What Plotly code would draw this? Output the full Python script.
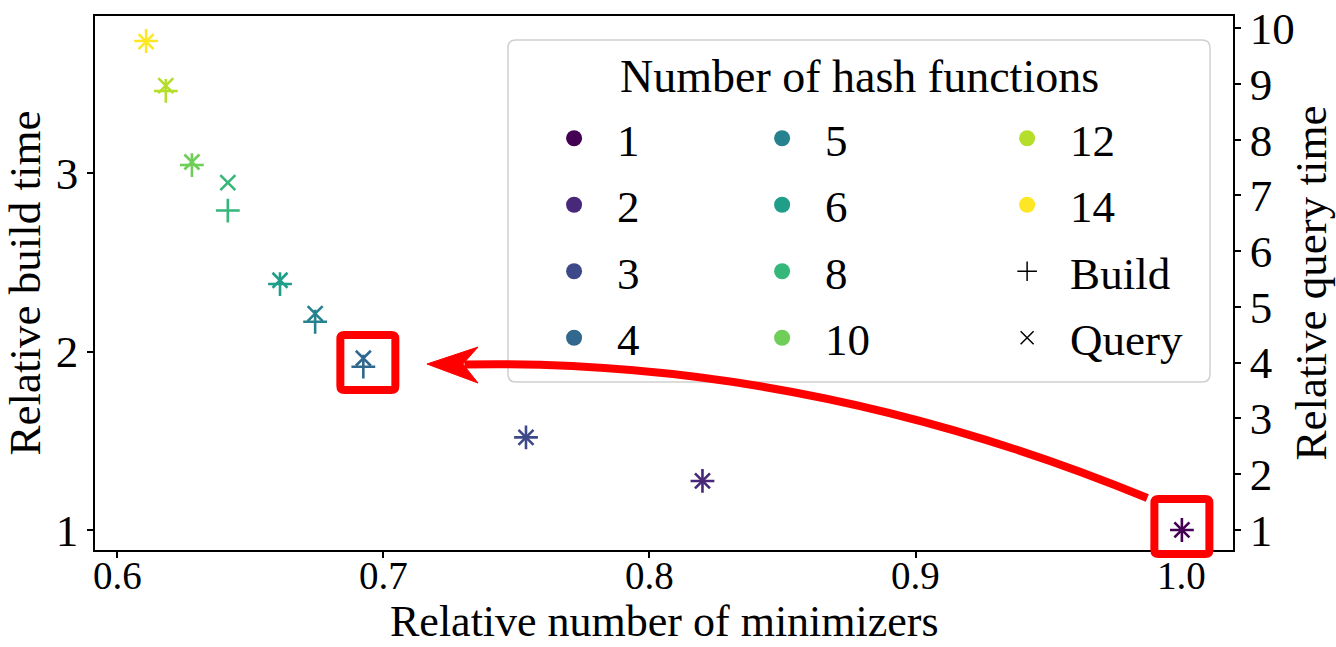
import plotly.graph_objects as go

# ---------------- data ----------------
hash_functions = [1, 2, 3, 4, 5, 6, 8, 10, 12, 14]
rel_minimizers = [1.000, 0.8199, 0.7536, 0.6925, 0.6744, 0.6612, 0.6416, 0.6281, 0.6183, 0.6109]
rel_build_time = [1.000, 1.275, 1.519, 1.915, 2.167, 2.378, 2.790, 3.045, 3.460, 3.740]
rel_query_time = [1.00, 1.88, 2.66, 4.08, 4.88, 5.48, 7.23, 7.60, 8.97, 9.76]
colors = ["#440154", "#482878", "#3e4989", "#31688e", "#26828e",
          "#1f9e89", "#35b779", "#6ece58", "#b5de2b", "#fde725"]
x_ticks = [0.6, 0.7, 0.8, 0.9, 1.0]
x_tick_labels = ["0.6", "0.7", "0.8", "0.9", "1.0"]
y_ticks = [1, 2, 3]
y2_ticks = list(range(1, 11))

FONT = "Liberation Serif"
FS = 45
X_RANGE = [0.5917, 1.0192]
Y_RANGE = [0.888, 3.88]
Y2_RANGE = [0.64, 10.22]
PLOT_W, PLOT_H = 1138, 534

fig = go.Figure()

# data marks
fig.add_trace(go.Scatter(
    x=rel_minimizers, y=rel_build_time, mode="markers", showlegend=False,
    marker=dict(symbol="cross-thin", size=17, color=colors,
                line=dict(color=colors, width=2.6)),
    yaxis="y"))
fig.add_trace(go.Scatter(
    x=rel_minimizers, y=rel_query_time, mode="markers", showlegend=False,
    marker=dict(symbol="x-thin", size=15, color=colors,
                line=dict(color=colors, width=2.6)),
    yaxis="y2"))

# legend entries (three columns => three legends)
legend_cols = ["legend", "legend2", "legend3"]
for i, (h, c) in enumerate(zip(hash_functions, colors)):
    col = legend_cols[i // 4]
    fig.add_trace(go.Scatter(
        x=[None], y=[None], mode="markers", name=str(h),
        legend=col, legendgroup=f"g{h}",
        marker=dict(symbol="circle", size=16, color=c)))
fig.add_trace(go.Scatter(
    x=[None], y=[None], mode="markers", name="Build", legend="legend3",
    legendgroup="build",
    marker=dict(symbol="cross-thin", size=14, color="black",
                line=dict(color="black", width=1.5))))
fig.add_trace(go.Scatter(
    x=[None], y=[None], mode="markers", name="Query", legend="legend3",
    legendgroup="query",
    marker=dict(symbol="x-thin", size=13, color="black",
                line=dict(color="black", width=1.5))))

# ---------------- decorations (paper coords, not clipped) ----------------
def px_(x):  # data x -> paper
    return (x - X_RANGE[0]) / (X_RANGE[1] - X_RANGE[0])

def py_(y):  # build-axis value -> paper
    return (y - Y_RANGE[0]) / (Y_RANGE[1] - Y_RANGE[0])

def q_to_b(q):
    f = (q - Y2_RANGE[0]) / (Y2_RANGE[1] - Y2_RANGE[0])
    return Y_RANGE[0] + f * (Y_RANGE[1] - Y_RANGE[0])

def rrect(x0, x1, y0, y1, rx, ry):
    return (f"M {x0+rx},{y0} L {x1-rx},{y0} Q {x1},{y0} {x1},{y0+ry} "
            f"L {x1},{y1-ry} Q {x1},{y1} {x1-rx},{y1} L {x0+rx},{y1} "
            f"Q {x0},{y1} {x0},{y1-ry} L {x0},{y0+ry} Q {x0},{y0} {x0+rx},{y0} Z")

# legend frame
fig.add_shape(type="path", xref="paper", yref="paper", layer="below",
              path=rrect(0.3629, 0.9798, 0.3146, 0.955, 8 / PLOT_W, 8 / PLOT_H),
              line=dict(color="#d0d0d0", width=1.5), fillcolor="rgba(255,255,255,0.8)")

# highlight boxes around the 4-hash and 1-hash points
hw, hh = 27.5 / PLOT_W, 27.5 / PLOT_H
for idx, dxp, dyb in [(3, 0.0017, 0.0), (0, 0.0, 0.02)]:
    cx = px_(rel_minimizers[idx] + dxp)
    cy = py_((rel_build_time[idx] + q_to_b(rel_query_time[idx])) / 2 + dyb)
    fig.add_shape(type="path", xref="paper", yref="paper", layer="above",
                  path=rrect(cx - hw, cx + hw, cy - hh, cy + hh, 4 / PLOT_W, 4 / PLOT_H),
                  line=dict(color="#ff0000", width=8))

# curved arrow from the 1-hash box to the 4-hash box
a0 = (px_(0.9870), py_(1.1793))
a1 = (px_(0.8592), py_(1.9636))
a2 = (px_(0.7305), py_(1.9270))
fig.add_shape(type="path", xref="paper", yref="paper", layer="above",
              path=f"M {a0[0]},{a0[1]} Q {a1[0]},{a1[1]} {a2[0]},{a2[1]}",
              line=dict(color="#ff0000", width=8))
head = [(0.7164, 1.930), (0.7356, 2.0252), (0.7299, 1.930), (0.7356, 1.8235)]
hp = " L ".join(f"{px_(x)},{py_(y)}" for x, y in head)
fig.add_shape(type="path", xref="paper", yref="paper", layer="above",
              path=f"M {hp} Z", line=dict(color="#ff0000", width=1), fillcolor="#ff0000")

# legend title
fig.add_annotation(text="Number of hash functions", xref="paper", yref="paper",
                   x=0.6722, y=0.887, xanchor="center", yanchor="middle",
                   showarrow=False, font=dict(family=FONT, size=46, color="black"))

# x tick labels placed on the x scale (tightly, like the reference)
for v, lab in zip(x_ticks, x_tick_labels):
    fig.add_annotation(text=lab, x=v, xref="x", y=-3 / PLOT_H, yref="paper",
                       xanchor="center", yanchor="top", showarrow=False, borderpad=0,
                       font=dict(family=FONT, size=39, color="black"))

# x-axis title
fig.add_annotation(text="Relative number of minimizers", xref="paper", yref="paper",
                   x=0.5, y=-97 / PLOT_H, xanchor="center", yanchor="bottom",
                   showarrow=False, borderpad=0,
                   font=dict(family=FONT, size=44, color="black"))

axis_common = dict(showline=True, linecolor="black", linewidth=1.5, ticks="outside",
                   ticklen=6, tickwidth=1.5, tickcolor="black", showgrid=False,
                   zeroline=False, automargin=False,
                   tickfont=dict(family=FONT, size=FS, color="black"))

legend_common = dict(bgcolor="rgba(0,0,0,0)", borderwidth=0, orientation="v",
                     xanchor="left", yanchor="top", itemwidth=76,
                     traceorder="grouped", tracegroupgap=5,
                     font=dict(family=FONT, size=FS, color="black"))

LEG_Y = 0.838
fig.update_layout(
    width=1336, height=647,
    margin=dict(l=95, r=103, t=16, b=97),
    paper_bgcolor="white", plot_bgcolor="white",
    xaxis=dict(range=X_RANGE, tickvals=x_ticks, showticklabels=False,
               mirror=True, **axis_common),
    yaxis=dict(range=Y_RANGE, tickvals=y_ticks,
               title=dict(text="Relative build time", standoff=8,
                          font=dict(family=FONT, size=FS, color="black")),
               **axis_common),
    yaxis2=dict(range=Y2_RANGE, tickvals=y2_ticks, overlaying="y", side="right",
                title=dict(text="Relative query time", standoff=6,
                           font=dict(family=FONT, size=FS, color="black")),
                **axis_common),
    legend=dict(x=0.3832, y=LEG_Y, **legend_common),
    legend2=dict(x=0.5660, y=LEG_Y, **legend_common),
    legend3=dict(x=0.7813, y=LEG_Y, **legend_common),
)

fig.write_html("out.html")
